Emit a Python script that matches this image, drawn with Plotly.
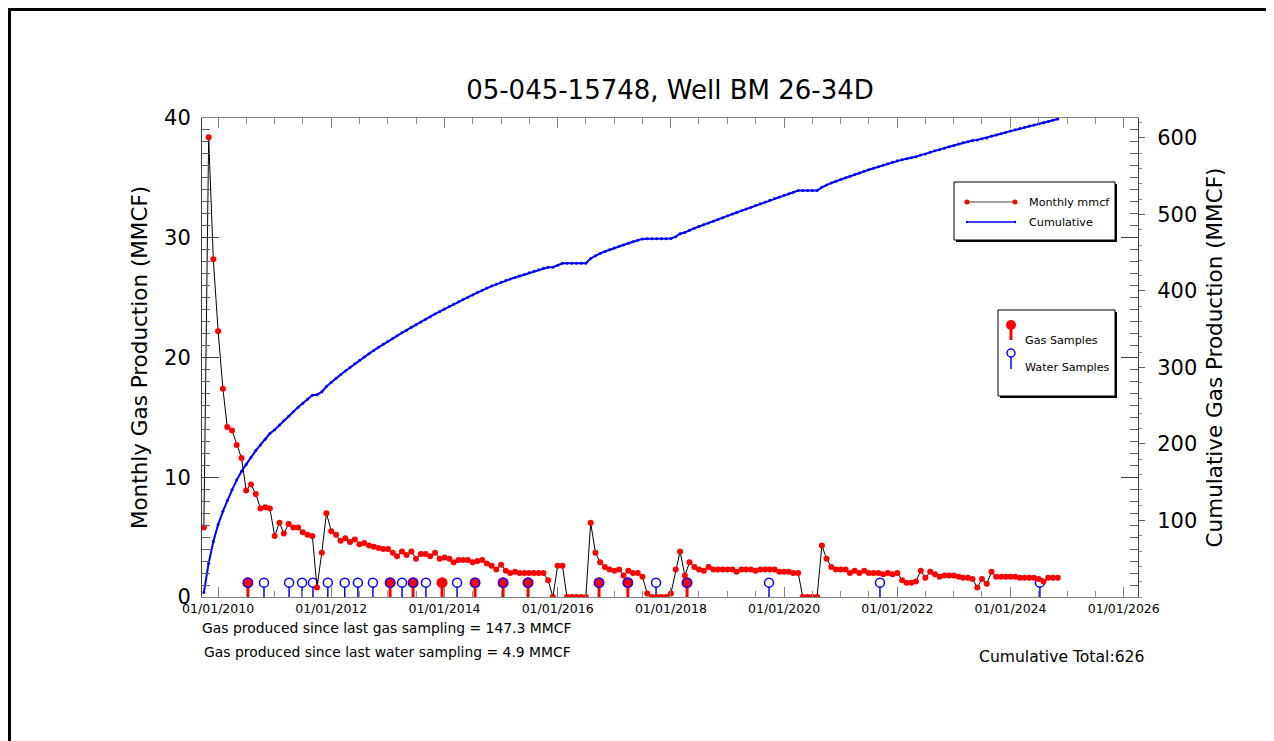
import numpy as np
import pandas as pd
import plotly.graph_objects as go

# ---------------- data ----------------
START_MONTH = "2009-10-01"
monthly_mmcf = [
    5.8, 38.4, 28.2, 22.2, 17.4, 14.2, 13.9, 12.7, 11.6, 8.9,
    9.4, 8.6, 7.4, 7.5, 7.4, 5.1, 6.2, 5.3, 6.1, 5.8,
    5.8, 5.4, 5.2, 5.1, 0.8, 3.7, 7.0, 5.5, 5.2, 4.7,
    4.9, 4.6, 4.8, 4.4, 4.5, 4.3, 4.2, 4.1, 4.0, 4.0,
    3.7, 3.4, 3.8, 3.5, 3.8, 3.2, 3.6, 3.6, 3.4, 3.7,
    3.2, 3.3, 3.2, 2.9, 3.1, 3.1, 3.1, 2.9, 3.0, 3.1,
    2.8, 2.6, 2.3, 2.7, 2.2, 2.0, 2.1, 2.0, 2.0, 2.0,
    2.0, 2.0, 2.0, 1.4, 0.0, 2.6, 2.6, 0.0, 0.0, 0.0,
    0.0, 0.0, 6.2, 3.7, 2.9, 2.5, 2.3, 2.2, 2.3, 1.8,
    2.2, 2.0, 2.0, 1.7, 0.3, 0.0, 0.0, 0.0, 0.0, 0.3,
    2.3, 3.8, 1.8, 2.9, 2.5, 2.3, 2.2, 2.5, 2.3, 2.3,
    2.3, 2.3, 2.3, 2.1, 2.3, 2.3, 2.3, 2.2, 2.3, 2.3,
    2.3, 2.3, 2.1, 2.1, 2.1, 2.0, 2.0, 0.0, 0.0, 0.0,
    0.0, 4.3, 3.2, 2.5, 2.3, 2.3, 2.3, 2.0, 2.2, 2.0,
    2.2, 2.0, 2.0, 2.0, 1.9, 2.0, 1.9, 2.0, 1.4, 1.2,
    1.2, 1.3, 2.2, 1.6, 2.1, 1.9, 1.7, 1.8, 1.8, 1.8,
    1.7, 1.6, 1.6, 1.5, 0.8, 1.5, 1.1, 2.1, 1.7, 1.7,
    1.7, 1.7, 1.7, 1.6, 1.6, 1.6, 1.6, 1.5, 1.3, 1.6,
    1.6, 1.6,
]
months = pd.date_range(START_MONTH, periods=len(monthly_mmcf), freq="MS")
cumulative = np.cumsum(monthly_mmcf)

gas_sample_dates = [
    "2010-07-12", "2013-01-15", "2013-06-12", "2013-12-16", "2014-07-17",
    "2015-01-14", "2015-06-24", "2016-09-24", "2017-03-29", "2018-04-15",
]
water_sample_dates = [
    "2010-07-12", "2010-10-24", "2011-04-04", "2011-06-27", "2011-09-05",
    "2011-12-10", "2012-03-28", "2012-06-21", "2012-09-26", "2013-01-15",
    "2013-04-02", "2013-06-12", "2013-09-03", "2014-03-23", "2014-07-17",
    "2015-01-14", "2015-06-24", "2016-09-24", "2017-03-29", "2017-09-27",
    "2018-04-15", "2019-09-26", "2021-09-11", "2024-07-09",
]

TITLE = "05-045-15748, Well BM 26-34D"
CUM_TOTAL = 626
GAS_SINCE_GAS = 147.3
GAS_SINCE_WATER = 4.9
y2_ticks = [100, 200, 300, 400, 500, 600]

# ---------------- styling constants ----------------
FONT = "DejaVu Sans"
SAMPLE_Y = 1.2
WATER_STEM_TOP = 0.85

OFF = 8                      # page body margin in the browser
W, H = 1274 - OFF, 741 - OFF
L, R, T, B = 202, 1138, 118, 597   # plot area in screen pixels


def px(x):
    return (x - L) / (R - L)


def py(y):
    return (B - y) / (B - T)


def stems(dates, top):
    xs, ys = [], []
    for d in dates:
        xs += [d, d, None]
        ys += [0, top, None]
    return xs, ys


fig = go.Figure()

wx, wy = stems(water_sample_dates, WATER_STEM_TOP)
fig.add_trace(go.Scatter(x=wx, y=wy, mode="lines", line=dict(color="#0000ff", width=1.5),
                         hoverinfo="skip", showlegend=False))
gx, gy = stems(gas_sample_dates, SAMPLE_Y)
fig.add_trace(go.Scatter(x=gx, y=gy, mode="lines", line=dict(color="#ff0000", width=3),
                         hoverinfo="skip", showlegend=False))
fig.add_trace(go.Scatter(x=gas_sample_dates, y=[SAMPLE_Y] * len(gas_sample_dates), mode="markers",
                         marker=dict(color="#ff0000", size=11, line=dict(width=0)),
                         name="Gas Samples", showlegend=False))
fig.add_trace(go.Scatter(x=water_sample_dates, y=[SAMPLE_Y] * len(water_sample_dates), mode="markers",
                         marker=dict(symbol="circle-open", color="#0000ff", size=9, line=dict(width=1.5)),
                         name="Water Samples", showlegend=False))
fig.add_trace(go.Scatter(x=months, y=monthly_mmcf, mode="lines+markers",
                         line=dict(color="black", width=1),
                         marker=dict(color="#ff0000", size=6, line=dict(width=0)),
                         name="Monthly mmcf", showlegend=False))
fig.add_trace(go.Scatter(x=months, y=cumulative, mode="lines+markers", yaxis="y2",
                         line=dict(color="#0000ff", width=2),
                         marker=dict(color="#0000ff", size=3),
                         name="Cumulative", showlegend=False))

shapes = []
annotations = []

# outer frame
shapes.append(dict(type="rect", xref="paper", yref="paper",
                   x0=px(9.5), x1=px(1268), y0=py(780), y1=py(9.5),
                   line=dict(color="black", width=3), fillcolor="rgba(0,0,0,0)", layer="above"))

LEG_FONT = dict(family=FONT, size=11.2, color="black")

# legend box 1 (with shadow)
shapes.append(dict(type="rect", xref="paper", yref="paper", x0=px(956), x1=px(1117), y0=py(242), y1=py(184),
                   line=dict(width=0), fillcolor="black", layer="above"))
shapes.append(dict(type="rect", xref="paper", yref="paper", x0=px(954), x1=px(1115), y0=py(240), y1=py(182),
                   line=dict(color="black", width=1), fillcolor="white", layer="above"))
shapes.append(dict(type="line", xref="paper", yref="paper", x0=px(967), x1=px(1015), y0=py(202), y1=py(202),
                   line=dict(color="#808080", width=1.5), layer="above"))
for cx in (967, 1015):
    shapes.append(dict(type="circle", xref="paper", yref="paper", x0=px(cx - 2.5), x1=px(cx + 2.5),
                       y0=py(204.5), y1=py(199.5), line=dict(width=0), fillcolor="#ff0000", layer="above"))
shapes.append(dict(type="line", xref="paper", yref="paper", x0=px(967), x1=px(1015), y0=py(222), y1=py(222),
                   line=dict(color="#0000ff", width=1.5), layer="above"))
for cx in (967, 1015):
    shapes.append(dict(type="circle", xref="paper", yref="paper", x0=px(cx - 1.2), x1=px(cx + 1.2),
                       y0=py(223.2), y1=py(220.8), line=dict(width=0), fillcolor="#0000ff", layer="above"))
annotations.append(dict(text="Monthly mmcf", xref="paper", yref="paper", x=px(1027), y=py(202),
                        xanchor="left", yanchor="middle", showarrow=False, font=LEG_FONT))
annotations.append(dict(text="Cumulative", xref="paper", yref="paper", x=px(1027), y=py(222),
                        xanchor="left", yanchor="middle", showarrow=False, font=LEG_FONT))

# legend box 2 (with shadow)
shapes.append(dict(type="rect", xref="paper", yref="paper", x0=px(1000), x1=px(1117), y0=py(398), y1=py(312),
                   line=dict(width=0), fillcolor="black", layer="above"))
shapes.append(dict(type="rect", xref="paper", yref="paper", x0=px(998), x1=px(1115), y0=py(396), y1=py(310),
                   line=dict(color="black", width=1), fillcolor="white", layer="above"))
shapes.append(dict(type="line", xref="paper", yref="paper", x0=px(1011), x1=px(1011), y0=py(340), y1=py(326),
                   line=dict(color="#ff0000", width=3), layer="above"))
shapes.append(dict(type="circle", xref="paper", yref="paper", x0=px(1006), x1=px(1016), y0=py(330), y1=py(320),
                   line=dict(width=0), fillcolor="#ff0000", layer="above"))
shapes.append(dict(type="line", xref="paper", yref="paper", x0=px(1011), x1=px(1011), y0=py(369), y1=py(357),
                   line=dict(color="#0000ff", width=1.5), layer="above"))
shapes.append(dict(type="circle", xref="paper", yref="paper", x0=px(1007), x1=px(1015), y0=py(357), y1=py(349),
                   line=dict(color="#0000ff", width=1.5), fillcolor="white", layer="above"))
annotations.append(dict(text="Gas Samples", xref="paper", yref="paper", x=px(1023), y=py(340),
                        xanchor="left", yanchor="middle", showarrow=False, font=LEG_FONT))
annotations.append(dict(text="Water Samples", xref="paper", yref="paper", x=px(1023), y=py(367),
                        xanchor="left", yanchor="middle", showarrow=False, font=LEG_FONT))

# bottom texts
annotations.append(dict(text=f"Gas produced since last gas sampling = {GAS_SINCE_GAS} MMCF",
                        xref="paper", yref="paper", x=px(200), y=py(628), xanchor="left", yanchor="middle",
                        showarrow=False, font=dict(family=FONT, size=13.9, color="black")))
annotations.append(dict(text=f"Gas produced since last water sampling = {GAS_SINCE_WATER} MMCF",
                        xref="paper", yref="paper", x=px(202), y=py(652), xanchor="left", yanchor="middle",
                        showarrow=False, font=dict(family=FONT, size=13.9, color="black")))
annotations.append(dict(text=f"Cumulative Total:{CUM_TOTAL}",
                        xref="paper", yref="paper", x=px(1146), y=py(657), xanchor="right", yanchor="middle",
                        showarrow=False, font=dict(family=FONT, size=15.6, color="black")))

fig.update_layout(
    width=W, height=H,
    margin=dict(l=L - OFF, r=(W + OFF) - R, t=T - OFF, b=(H + OFF) - B, pad=0),
    paper_bgcolor="white", plot_bgcolor="white",
    font=dict(family=FONT, color="black"),
    title=dict(text=TITLE, x=0.5, xref="paper", xanchor="center",
               y=1 - (90 - OFF) / H, yref="container", yanchor="middle",
               font=dict(family=FONT, size=26, color="black")),
    showlegend=False,
    shapes=shapes,
    annotations=annotations,
    xaxis=dict(
        type="date", range=["2009-09-19", "2026-04-03"],
        tick0="2010-01-01", dtick="M24", tickformat="%m/%d/%Y",
        ticks="inside", ticklen=10, tickcolor="#808080", tickwidth=1,
        showline=True, linecolor="#808080", linewidth=1, mirror="ticks",
        showgrid=False, zeroline=False,
        tickfont=dict(family=FONT, size=12.5, color="black"),
        minor=dict(dtick="M6", tick0="2010-01-01", ticks="inside", ticklen=6, tickcolor="#909090", showgrid=False),
    ),
    yaxis=dict(
        range=[0, 40], dtick=10, tick0=0,
        ticks="inside", ticklen=17, tickcolor="#404040", tickwidth=1,
        showline=True, linecolor="#404040", linewidth=1, mirror="ticks",
        showgrid=False, zeroline=False,
        tickfont=dict(family=FONT, size=21, color="black"),
        ticklabelstandoff=6,
        title=dict(text="Monthly Gas Production (MMCF)", standoff=10,
                   font=dict(family=FONT, size=21.5, color="black")),
        minor=dict(dtick=1, ticks="inside", ticklen=8, tickcolor="#606060", showgrid=False),
    ),
    yaxis2=dict(
        overlaying="y", side="right", range=[0, CUM_TOTAL],
        tickvals=y2_ticks,
        ticks="outside", ticklen=6, tickcolor="#606060",
        showline=False, showgrid=False, zeroline=False,
        tickfont=dict(family=FONT, size=21, color="black"),
        ticklabelstandoff=8,
        title=dict(text="Cumulative Gas Production (MMCF)", standoff=10,
                   font=dict(family=FONT, size=21.5, color="black")),
        minor=dict(dtick=20, tick0=0, ticks="outside", ticklen=3, tickcolor="#909090", showgrid=False),
    ),
)

fig.write_html("out.html")
